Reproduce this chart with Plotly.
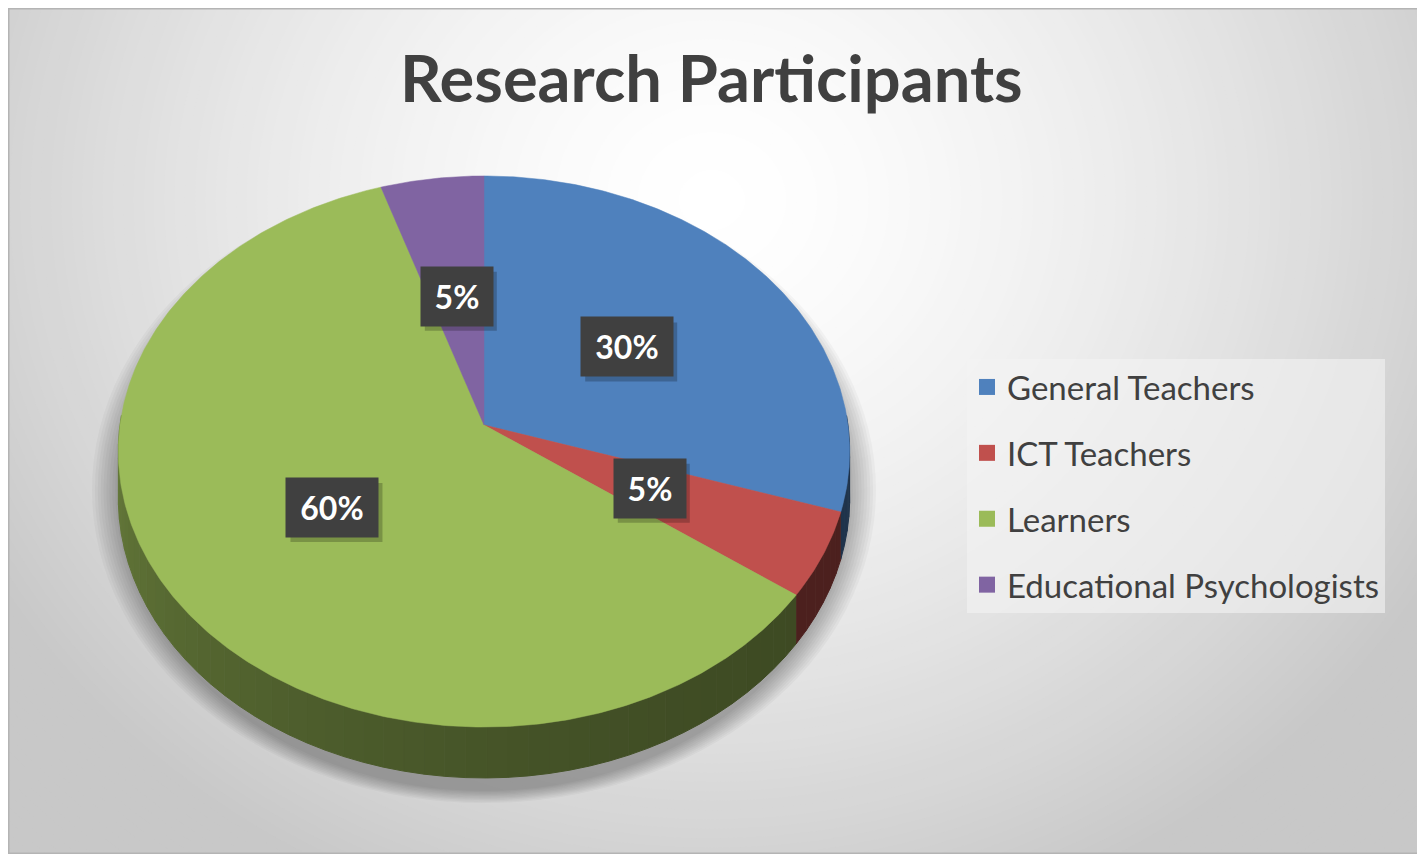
import numpy as np
import plotly.graph_objects as go

# ---------------------------------------------------------------------------
# Data
# ---------------------------------------------------------------------------
categories = ["General Teachers", "ICT Teachers", "Learners", "Educational Psychologists"]
counts = [6, 1, 12, 1]
slice_colors = ["#4f81bd", "#c0504d", "#9bbb59", "#8064a2"]
chart_title = "Research Participants"

# ---------------------------------------------------------------------------
# Canvas: the page body has an 8px margin, so the figure is 8px smaller and
# the axes are shifted so that axis units equal window pixels.
# ---------------------------------------------------------------------------
PAGE_W, PAGE_H, OFF = 1425, 854, 8
W, H = PAGE_W - OFF, PAGE_H - OFF

CX, CY = 484, 425        # projected centre of the pie
A, B = 364, 273          # horizontal / vertical radii
K = 0.0962               # perspective strength
DEPTH = 46               # thickness of the pie
FONT = "Lato"


def project(r, phi_deg, drop=0.0):
    """Project a point of the pie (radius r, clockwise angle from 12 o'clock)."""
    phi = np.radians(phi_deg)
    u = r * np.sin(phi)
    v = r * np.cos(phi)
    w = 1 + K * v
    return CX + A * u / w, CY - B * v / w + drop / w


def hex_rgb(h):
    h = h.lstrip("#")
    return tuple(int(h[i:i + 2], 16) for i in (0, 2, 4))


def side_shade(phi):
    t = np.clip((phi - 125) / 145, 0, 1)
    return 0.40 + 0.26 * t ** 1.6


values = np.array(counts, dtype=float)
fractions = values / values.sum()
ends = np.cumsum(fractions) * 360
starts = ends - fractions * 360

fig = go.Figure()

# side walls (front half only), drawn as thin strips for a shaded look
for start, end, color in zip(starts, ends, slice_colors):
    lo, hi = max(start, 88), min(end, 272)
    if hi <= lo:
        continue
    n_seg = max(1, int(np.ceil((hi - lo) / 3)))
    edges = np.linspace(lo, hi, n_seg + 1)
    base = hex_rgb(color)
    for a0, a1 in zip(edges[:-1], edges[1:]):
        arc = np.linspace(a0, a1, 4)
        tx, ty = project(1, arc)
        bx, by = project(1, arc[::-1], DEPTH)
        f = side_shade((a0 + a1) / 2)
        c = "rgb({},{},{})".format(*[int(ch * f) for ch in base])
        fig.add_trace(go.Scatter(
            x=np.concatenate([tx, bx]),
            y=np.concatenate([ty, by]),
            mode="lines",
            fill="toself",
            fillcolor=c,
            line=dict(color=c, width=1),
            hoverinfo="skip",
            showlegend=False,
        ))

# top faces
for name, start, end, color, frac in zip(categories, starts, ends, slice_colors, fractions):
    arc = np.linspace(start, end, max(3, int((end - start) * 2)))
    ax, ay = project(1, arc)
    fig.add_trace(go.Scatter(
        x=np.concatenate([[CX], ax, [CX]]),
        y=np.concatenate([[CY], ay, [CY]]),
        mode="lines",
        fill="toself",
        fillcolor=color,
        line=dict(color=color, width=0.5),
        name=name,
        text=f"{name}: {frac:.0%}",
        hoverinfo="text",
        showlegend=False,
    ))

# legend entries
for i, (name, color) in enumerate(zip(categories, slice_colors)):
    fig.add_trace(go.Scatter(
        x=[None], y=[None],
        mode="markers",
        marker=dict(symbol="square", size=18, color=color),
        name=name,
        legendgroup=str(i),
    ))

# ---------------------------------------------------------------------------
# Decoration: radial background gradient, pie shadow, border
# ---------------------------------------------------------------------------
shapes = []
for r in np.linspace(1050, 30, 110):
    g = int(round(255 - 55 * min(1.0, r / 760) ** 1.5))
    shapes.append(dict(
        type="circle", xref="x", yref="y", layer="below",
        x0=712 - 1.1 * r, x1=712 + 1.1 * r, y0=200 - r, y1=200 + r,
        fillcolor=f"rgb({g},{g},{g})", line=dict(width=0),
    ))

for i in range(10):
    t = i / 9
    ea = 366 + 26 * (1 - t)
    eb = 301 + 12 * (1 - t)
    shapes.append(dict(
        type="circle", xref="x", yref="y", layer="below",
        x0=484 - ea, x1=484 + ea, y0=490 - eb, y1=490 + eb,
        fillcolor="rgba(0,0,0,0.03)", line=dict(width=0),
    ))

shapes.append(dict(
    type="rect", xref="paper", yref="paper", x0=0, x1=1, y0=0, y1=1,
    line=dict(color="#b4b4b4", width=3), layer="above",
))

# ---------------------------------------------------------------------------
# Annotations: title and percentage labels
# ---------------------------------------------------------------------------
annotations = [dict(
    x=711, y=77, xref="x", yref="y", text=f"<b>{chart_title}</b>",
    showarrow=False, font=dict(family=FONT, size=65, color="#404040"),
)]

PAD, BOX_H = 9, 41
for start, end, frac in zip(starts, ends, fractions):
    lx, ly = project(0.5, (start + end) / 2)
    txt = f"{frac:.0%}"
    box_w = 20 * len(txt) + 14
    # soft drop shadow behind the label box
    half_w, half_h = box_w / 2 + PAD, BOX_H / 2 + PAD
    shapes.append(dict(
        type="rect", xref="x", yref="y", layer="above",
        x0=lx - half_w + 4, x1=lx + half_w + 4,
        y0=ly - half_h + 5, y1=ly + half_h + 5,
        fillcolor="rgba(0,0,0,0.22)", line=dict(width=0),
    ))
    annotations.append(dict(
        x=lx, y=ly, xref="x", yref="y", showarrow=False,
        text=f"<b>{txt}</b>", width=box_w, height=BOX_H, borderpad=PAD,
        bgcolor="#404040",
        font=dict(family=FONT, size=32, color="white"),
    ))

fig.update_layout(
    width=W,
    height=H,
    margin=dict(l=0, r=0, t=0, b=0),
    paper_bgcolor="#c8c8c8",
    plot_bgcolor="#c8c8c8",
    xaxis=dict(range=[OFF, PAGE_W], visible=False, fixedrange=True),
    yaxis=dict(range=[PAGE_H, OFF], visible=False, fixedrange=True),
    shapes=shapes,
    annotations=annotations,
    showlegend=True,
    legend=dict(
        x=(967 - OFF) / W, y=1 - (359 - OFF) / H, xanchor="left", yanchor="top",
        bgcolor="rgba(244,244,244,0.6)",
        font=dict(family=FONT, size=33, color="#404040"),
        tracegroupgap=20,
        itemsizing="trace",
    ),
)

fig.write_html("out.html")
